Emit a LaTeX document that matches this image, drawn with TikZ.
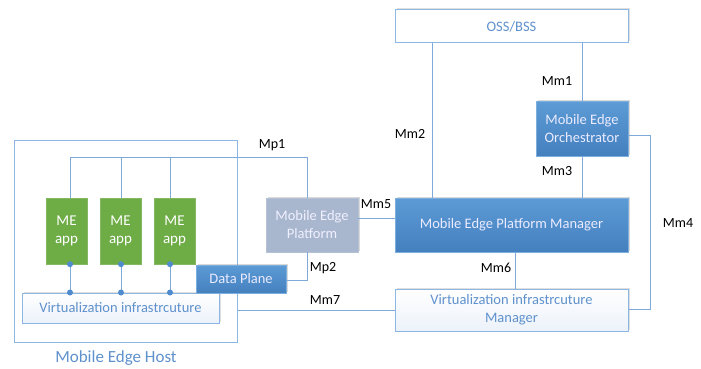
\documentclass[tikz,border=0pt]{standalone}
\usepackage{fontspec}
\setmainfont{Carlito}
\usetikzlibrary{shadows}
\definecolor{lnblue}{RGB}{125,170,218}
\definecolor{hostblue}{RGB}{140,182,228}
\definecolor{dotblue}{RGB}{80,140,205}
\definecolor{appgreen}{RGB}{110,172,70}
\definecolor{boxtop}{RGB}{92,155,214}
\definecolor{boxbot}{RGB}{68,128,190}
\definecolor{mepgray}{RGB}{168,182,206}
\definecolor{lighttxt}{RGB}{95,145,205}
\definecolor{lightfill}{RGB}{236,242,250}
\tikzset{
  conn/.style={draw=lnblue, line width=0.9pt},
  lbl/.style={font=\fontsize{14}{15}\selectfont, text=black, inner sep=0pt},
  boxfont/.style={font=\fontsize{14.5}{18}\selectfont},
  lightbox/.style={draw=hostblue, line width=1pt, fill=white, text=lighttxt, boxfont, align=center, drop shadow={opacity=0.25, shadow xshift=1.5pt, shadow yshift=1.5pt}},
  vimbox/.style={lightbox, top color=white, bottom color=lightfill},
  bluebox/.style={draw=boxtop!80!white, line width=0.6pt, top color=boxtop, bottom color=boxbot, text=white!92!blue, boxfont, align=center, drop shadow={opacity=0.3, shadow xshift=1.5pt, shadow yshift=1.5pt}},
  appbox/.style={draw=appgreen!85!white, fill=appgreen, text=white, font=\fontsize{15}{18}\selectfont, align=center, minimum width=41pt, minimum height=66pt, inner sep=0pt},
  dot/.style={circle, fill=dotblue, minimum size=6pt, inner sep=0pt}
}
\begin{document}
\begin{tikzpicture}[x=1pt,y=-1pt]
\useasboundingbox (0,0) rectangle (701,369);
% Host
\node[draw=hostblue, line width=1pt, minimum width=223pt, minimum height=202pt, inner sep=0pt] (host) at (125.5,241) {};
\node[font=\fontsize{17}{19}\selectfont, text=lighttxt] (hostlbl) at (116,358) {Mobile Edge Host};
% apps
\node[appbox] (app1) at (66.5,231) {ME\\app};
\node[appbox] (app2) at (120.5,231) {ME\\app};
\node[appbox] (app3) at (174.5,231) {ME\\app};
% virtualization infra
\node[vimbox, drop shadow={opacity=0}, minimum width=197pt, minimum height=30pt, inner sep=0pt] (vi) at (120.5,308) {Virtualization infrastrcuture};
% Data plane
\node[bluebox, minimum width=90pt, minimum height=28pt, inner sep=0pt] (dp) at (241,279) {Data Plane};
% MEP
\node[draw=mepgray!85!white, fill=mepgray, text=white!94!blue, boxfont, align=center, minimum width=92pt, minimum height=54pt, inner sep=0pt, drop shadow={opacity=0.3, shadow xshift=1.5pt, shadow yshift=1.5pt}] (mep) at (312,225) {Mobile Edge\\Platform};
% right side
\node[lightbox, minimum width=233pt, minimum height=33pt, inner sep=0pt] (oss) at (511.5,26.5) {OSS/BSS};
\node[bluebox, minimum width=92pt, minimum height=55pt, inner sep=0pt] (meo) at (582,128.5) {Mobile Edge\\Orchestrator};
\node[bluebox, minimum width=233pt, minimum height=54pt, inner sep=0pt] (mepm) at (511.5,225) {Mobile Edge Platform Manager};
\node[vimbox, minimum width=233pt, minimum height=42pt, inner sep=0pt] (vim) at (511.5,310) {Virtualization infrastrcuture\\Manager};
% coordinates
\coordinate (mp1a) at (70,157);
\coordinate (mp1b) at (121,157);
\coordinate (mp1c) at (170,157);
\coordinate (mp1d) at (307,157);
\coordinate (mp2c) at (307,280);
\coordinate (mm4a) at (650,135);
\coordinate (mm4b) at (650,309);
% connectors
\draw[conn] (app1.north -| mp1a) -- (mp1a) -- (mp1d) -- (mep.north -| mp1d);
\draw[conn] (app2.north -| mp1b) -- (mp1b);
\draw[conn] (app3.north -| mp1c) -- (mp1c);
\draw[conn] (mep.south -| mp2c) -- (mp2c) -- (dp.east |- mp2c);
\draw[conn] (host.east |- vim.west) -- (vim.west);
\draw[conn] (mep.east |- 0,218) -- (mepm.west |- 0,218);
\draw[conn] (oss.south -| 432,0) -- (mepm.north -| 432,0);
\draw[conn] (oss.south -| meo.north) -- (meo.north);
\draw[conn] (meo.south) -- (mepm.north -| meo.south);
\draw[conn] (meo.east |- mm4a) -- (mm4a) -- (mm4b) -- (vim.east |- mm4b);
\draw[conn] (mepm.south -| 515,0) -- (vim.north -| 515,0);
% dots and app-to-vi lines
\foreach \a/\x in {app1/70,app2/121,app3/170}{
  \draw[conn] (\a.south -| \x,0) -- (vi.north -| \x,0);
  \node[dot] at (\a.south -| \x,0) {};
  \node[dot] at (vi.north -| \x,0) {};
}
% labels
\node[lbl] (lmp1) at (272,145) {Mp1};
\node[lbl] (lmp2) at (323,268) {Mp2};
\node[lbl] (lmm7) at (325,300) {Mm7};
\node[lbl] (lmm5) at (376,204) {Mm5};
\node[lbl] (lmm2) at (410,134) {Mm2};
\node[lbl] (lmm1) at (557,81) {Mm1};
\node[lbl] (lmm3) at (557,171) {Mm3};
\node[lbl] (lmm6) at (496,268) {Mm6};
\node[lbl] (lmm4) at (678,223) {Mm4};
\end{tikzpicture}
\end{document}
